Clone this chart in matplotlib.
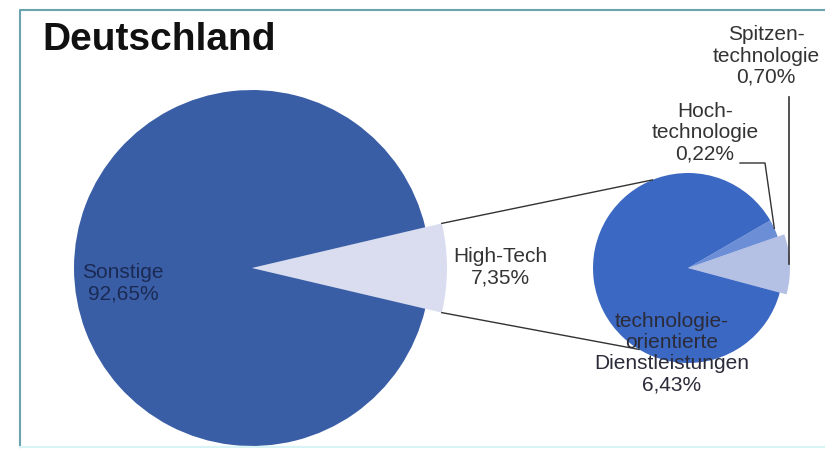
import numpy as np
import matplotlib
matplotlib.use("Agg")
import matplotlib.pyplot as plt

plt.rcParams['font.family'] = ['Liberation Sans', 'DejaVu Sans']

# Werte (Anteile in %)
haupt_labels = ['High-Tech', 'Sonstige']
haupt_werte = [7.35, 92.65]
neben_labels = ['Spitzen-\ntechnologie', 'Hoch-\ntechnologie', 'technologie-\norientierte\nDienstleistungen']
neben_werte = [0.70, 0.22, 6.43]

haupt_farben = ['#d9ddef', '#3a5ea6']
neben_farben = ['#b4c0e4', '#6b8ed6', '#3b68c2']

W, H = 825, 453
fig = plt.figure(figsize=(W / 100, H / 100), dpi=100)
ax = fig.add_axes([0, 0, 1, 1])
ax.set_xlim(0, W)
ax.set_ylim(0, H)
ax.axis('off')


def fmt(v):
    return ('%.2f%%' % v).replace('.', ',')


# linker Kreis
c1, r1 = (252, 185), 178
start1 = -haupt_werte[0] / sum(haupt_werte) * 360 / 2
w1, _ = ax.pie(haupt_werte, colors=haupt_farben, startangle=start1, counterclock=True,
               center=c1, radius=r1, frame=True,
               wedgeprops=dict(linewidth=0))
w1[0].set_radius(195)

# rechter Kreis
c2, r2 = (688, 185), 95
w2, _ = ax.pie(neben_werte, colors=neben_farben, startangle=-15, counterclock=True,
               center=c2, radius=r2, frame=True,
               wedgeprops=dict(linewidth=0))
w2[0].set_radius(102)
ax.set_xlim(0, W)
ax.set_ylim(0, H)
ax.set_aspect('equal')
ax.axis('off')

# Verbindungslinien
ht = w1[0]
for ang1, ang2 in [(ht.theta2, 112), (ht.theta1, -121)]:
    x1 = c1[0] + ht.r * np.cos(np.radians(ang1))
    y1 = c1[1] + ht.r * np.sin(np.radians(ang1))
    x2 = c2[0] + r2 * np.cos(np.radians(ang2))
    y2 = c2[1] + r2 * np.sin(np.radians(ang2))
    ax.plot([x1, x2], [y1, y2], color='#333333', lw=1.0)

# Beschriftungen
fs = 15
ax.text(123, 170, haupt_labels[1] + '\n' + fmt(haupt_werte[1]), ha='center', va='center',
        fontsize=fs, color='#1b2a55', linespacing=1.15)
ax.text(500, 186, haupt_labels[0] + '\n' + fmt(haupt_werte[0]), ha='center', va='center',
        fontsize=fs, color='#333333', linespacing=1.15)
ax.text(672, 100, neben_labels[2] + '\n' + fmt(neben_werte[2]), ha='center', va='center',
        fontsize=fs, color='#2b2b3a', linespacing=1.15)
ax.text(705, 320, neben_labels[1] + '\n' + fmt(neben_werte[1]), ha='center', va='center',
        fontsize=fs, color='#333333', linespacing=1.15)
ax.text(766, 397, neben_labels[0] + '\n' + fmt(neben_werte[0]), ha='center', va='center',
        fontsize=fs, color='#333333', linespacing=1.15)

# Führungslinien
hw = w2[1]
m = np.radians((hw.theta1 + hw.theta2) / 2)
ax.plot([740, 765, c2[0] + r2 * np.cos(m)], [290, 290, c2[1] + r2 * np.sin(m)],
        color='#333333', lw=1.0)
sw = w2[0]
m = np.radians((sw.theta1 + sw.theta2) / 2)
ax.plot([789, 789], [356, c2[1] + sw.r * np.sin(m)], color='#333333', lw=1.2)

# Titel
ax.text(42, 413, 'Deutschland', fontsize=28, fontweight='bold', ha='left', va='center',
        color='#111111')

# Rahmen
ax.plot([20, 20, W], [H - 447, H - 10, H - 10], color='#6aa3ad', lw=1.5)
ax.plot([20, W], [H - 447, H - 447], color='#d8f3f6', lw=1.5)

fig.savefig('out.png', dpi=100)
